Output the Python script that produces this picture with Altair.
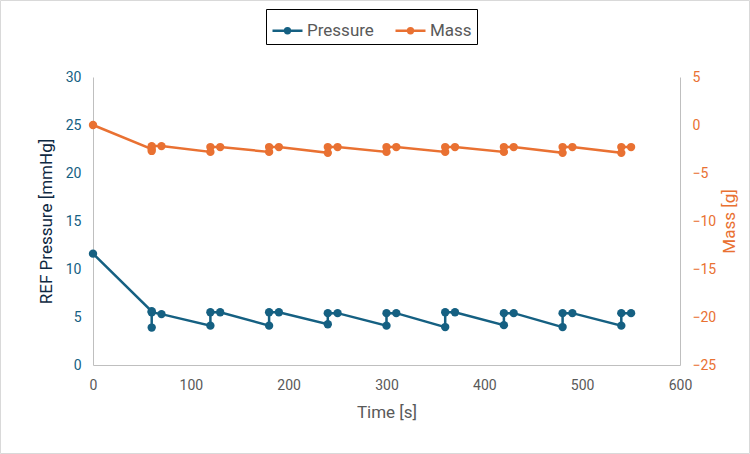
import altair as alt
import pandas as pd

# ---- data ----
p_time = [0, 60, 60, 60, 70, 120, 120, 130, 180, 180, 190, 240, 240, 250, 300, 300, 310,
          360, 360, 370, 420, 420, 430, 480, 480, 490, 540, 540, 550]
p_vals = [11.6, 5.6, 3.9, 5.5, 5.3, 4.1, 5.5, 5.5, 4.1, 5.5, 5.5, 4.25, 5.4, 5.4, 4.1, 5.4, 5.4,
          3.95, 5.5, 5.5, 4.15, 5.4, 5.4, 3.95, 5.4, 5.4, 4.1, 5.4, 5.4]

m_time = [0, 60, 60, 60, 70, 120, 120, 130, 180, 180, 190, 240, 240, 250, 300, 300, 310,
          360, 360, 370, 420, 420, 430, 480, 480, 490, 540, 540, 550]
m_vals = [0.0, -2.5, -2.7, -2.2, -2.2, -2.8, -2.3, -2.3, -2.8, -2.3, -2.3, -2.9, -2.3, -2.3,
          -2.8, -2.3, -2.3, -2.8, -2.3, -2.3, -2.8, -2.3, -2.3, -2.9, -2.3, -2.3, -2.9, -2.3, -2.3]

series_names = ["Pressure", "Mass"]
series_colors = ["#156082", "#E97132"]

x_ticks = [0, 100, 200, 300, 400, 500, 600]
left_ticks = [0, 5, 10, 15, 20, 25, 30]
right_ticks = [-25, -20, -15, -10, -5, 0, 5]

df_p = pd.DataFrame({"t": p_time, "v": p_vals, "series": "Pressure", "idx": range(len(p_time))})
df_m = pd.DataFrame({"t": m_time, "v": m_vals, "series": "Mass", "idx": range(len(m_time))})

FONT = "Roboto"
GRAY = "#595959"
AXIS_LINE = "#BFBFBF"

SYMBOL = ("M-1,0L1,0"
          "M0.16,0A0.16,0.16,0,1,1,-0.16,0A0.16,0.16,0,1,1,0.16,0"
          "M0.06,0A0.06,0.06,0,1,1,-0.06,0A0.06,0.06,0,1,1,0.06,0")

color = alt.Color(
    "series:N",
    scale=alt.Scale(domain=series_names, range=series_colors),
    legend=alt.Legend(
        title=None,
        orient="none",
        legendX=173,
        legendY=-68,
        direction="horizontal",
        symbolType=SYMBOL,
        symbolSize=900,
        symbolStrokeWidth=2.5,
        labelFontSize=17,
        labelColor=GRAY,
        labelFont=FONT,
        labelOffset=3,
        columnPadding=16,
        strokeColor="#000000",
        padding=5,
        offset=0,
    ),
)

x_enc = alt.X(
    "t:Q",
    scale=alt.Scale(domain=[0, 600], nice=False, zero=False),
    axis=alt.Axis(
        title="Time [s]",
        values=x_ticks,
        grid=False,
        ticks=False,
        labelFlush=False,
        domainColor=AXIS_LINE,
        labelColor=GRAY,
        labelFontSize=14,
        labelFont=FONT,
        labelPadding=13,
        titleColor=GRAY,
        titleFontSize=17,
        titleFont=FONT,
        titleFontWeight="normal",
        titlePadding=12,
    ),
)

base_p = alt.Chart(df_p)
base_m = alt.Chart(df_m)

y_p = alt.Y(
    "v:Q",
    scale=alt.Scale(domain=[0, 30], nice=False),
    axis=alt.Axis(
        title="REF Pressure [mmHg]",
        orient="left",
        values=left_ticks,
        grid=False,
        ticks=False,
        labelFlush=False,
        domainColor=AXIS_LINE,
        labelColor="#156082",
        labelFontSize=14,
        labelFont=FONT,
        labelPadding=12,
        titleColor="#0E2841",
        titleFontSize=17,
        titleFont=FONT,
        titleFontWeight="normal",
        titlePadding=10,
    ),
)

y_m = alt.Y(
    "v:Q",
    scale=alt.Scale(domain=[-25, 5], nice=False),
    axis=alt.Axis(
        title="Mass [g]",
        orient="right",
        values=right_ticks,
        grid=False,
        ticks=False,
        labelFlush=False,
        domainColor=AXIS_LINE,
        labelColor="#E97132",
        labelFontSize=14,
        labelFont=FONT,
        labelPadding=12,
        titleColor="#E97132",
        titleFontSize=17,
        titleFont=FONT,
        titleFontWeight="normal",
        titleAngle=270,
        titleBaseline="top",
        titlePadding=6,
    ),
)

p_line = base_p.mark_line(strokeWidth=2.5).encode(x=x_enc, y=y_p, color=color, order="idx:Q")
p_pts = base_p.mark_circle(size=70, opacity=1).encode(x="t:Q", y="v:Q", color=color)
m_line = base_m.mark_line(strokeWidth=2.5).encode(x=x_enc, y=y_m, color=color, order="idx:Q")
m_pts = base_m.mark_circle(size=70, opacity=1).encode(x="t:Q", y="v:Q", color=color)

pressure = alt.layer(p_line, p_pts)
mass = alt.layer(m_line, m_pts)

frame = alt.Chart(pd.DataFrame({"a": [0]})).mark_rect(
    fill="transparent", stroke="#D9D9D9", strokeWidth=1
).encode(
    x=alt.value(-92.5), x2=alt.value(656.5), y=alt.value(-76.5), y2=alt.value(376.5)
)

chart = (
    alt.layer(pressure, mass, frame)
    .resolve_scale(y="independent")
    .properties(
        width=587,
        height=288,
        autosize=alt.AutoSizeParams(type="none"),
        padding={"left": 93, "top": 77, "right": 70, "bottom": 89},
        background="#FFFFFF",
    )
    .configure_view(stroke=None)
)

chart.save("out.html", embed_options={"renderer": "svg", "actions": False})
